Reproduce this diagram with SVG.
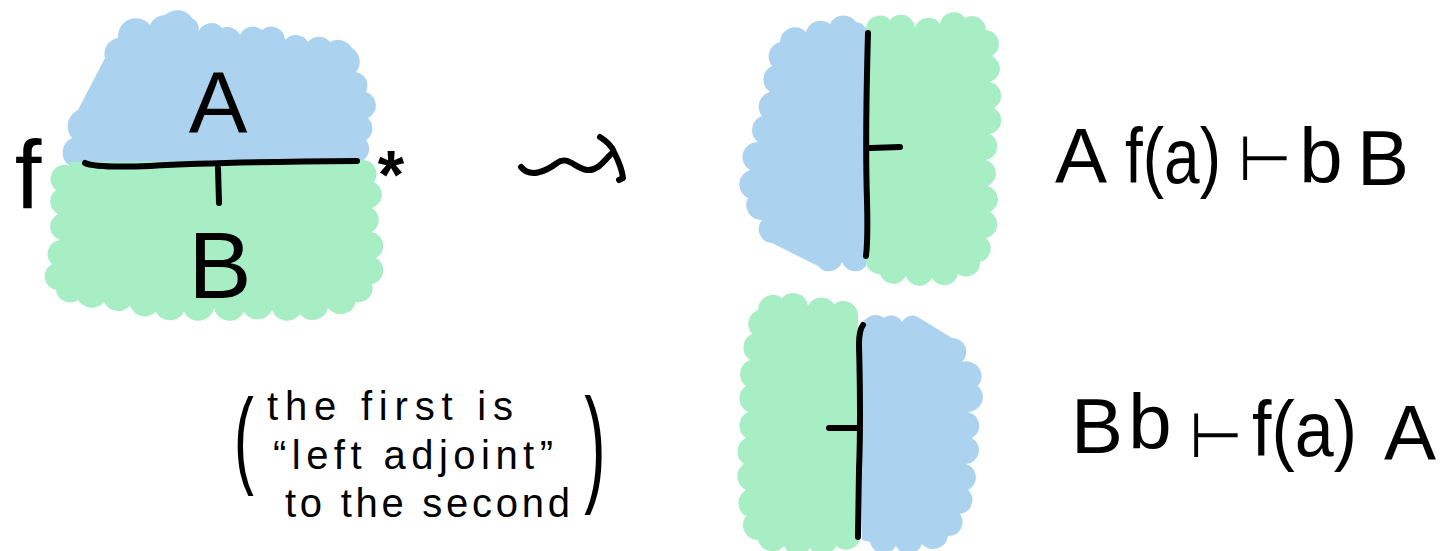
<svg xmlns="http://www.w3.org/2000/svg" width="1455" height="551" viewBox="0 0 1455 551">
<style>
.blue{fill:#ABD3F0}
.green{fill:#A8EEC5}
.ink{fill:none;stroke:#000;stroke-width:6;stroke-linecap:round;stroke-linejoin:round}
.t{font-family:"Liberation Sans","DejaVu Sans",sans-serif;fill:#000}
.big{font-size:78px}
.ts{font-family:"DejaVu Sans",sans-serif;font-size:62px}
.note{font-size:40px}
</style>
<rect width="1455" height="551" fill="#fff"/>
<g id="left-diagram">
<path class="blue" d="M 70 166 A 16 16 0 0 1 72 138 A 18 18 0 0 1 78 110 L 105 58 A 16 16 0 0 1 118 38 A 18 18 0 0 1 150 25 A 16 16 0 0 1 165 15 A 18 18 0 0 1 192 18 A 12 12 0 0 1 198 33 A 14 14 0 0 1 222 28 A 14 14 0 0 1 240 35 A 14 14 0 0 1 262 30 A 14 14 0 0 1 285 40 A 14 14 0 0 1 308 42 A 14 14 0 0 1 330 42 A 16 16 0 0 1 352 48 A 16 16 0 0 1 356 72 A 14 14 0 0 1 366 92 A 14 14 0 0 1 368 118 A 14 14 0 0 1 366 140 A 14 14 0 0 1 360 162 Z"/>
<path class="green" d="M 70 162 L 362 160 A 14 14 0 0 1 374 182 A 14 14 0 0 1 372 208 A 14 14 0 0 1 372 232 A 14 14 0 0 1 376 258 A 14 14 0 0 1 372 284 A 14 14 0 0 1 356 302 A 16 16 0 0 1 328 308 A 16 16 0 0 1 300 314 A 16 16 0 0 1 272 310 A 16 16 0 0 1 244 312 A 16 16 0 0 1 214 308 A 16 16 0 0 1 184 312 A 16 16 0 0 1 156 312 A 16 16 0 0 1 130 306 A 16 16 0 0 1 104 302 A 16 16 0 0 1 78 300 A 14 14 0 0 1 56 290 A 14 14 0 0 1 52 264 A 14 14 0 0 1 60 240 A 14 14 0 0 1 58 214 A 14 14 0 0 1 56 190 A 14 14 0 0 1 70 166 Z"/>
<path class="ink" d="M 85 163 Q 95 168 150 166 Q 220 162 357 161"/>
<path class="ink" d="M 218 168 L 219 203"/>
<text class="t" x="218" y="133" font-size="88" text-anchor="middle">A</text>
<text class="t" x="220" y="298" font-size="95" text-anchor="middle">B</text>
<text class="t" x="28" y="208" font-size="96" text-anchor="middle">f</text>
<text class="t" x="391" y="198" font-size="68" font-weight="bold" text-anchor="middle">*</text>
</g>
<g id="connectors">
<path class="ink" d="M 521 167 C 530 178 545 172 557 163 C 567 155 575 168 587 170 C 598 171 605 160 611 154"/>
<path class="ink" d="M 600 137 Q 611 144 614 152 Q 622 168 623 178 L 619 180"/>
</g>
<g id="top-right">
<path class="blue" d="M 866 25 L 866 266 A 14 14 0 0 1 842 262 A 14 14 0 0 1 818 266 L 772 243 A 14 14 0 0 1 762 220 A 15 15 0 0 1 748 198 A 15 15 0 0 1 750 170 A 15 15 0 0 1 758 142 A 15 15 0 0 1 762 116 A 15 15 0 0 1 770 92 A 15 15 0 0 1 772 66 A 15 15 0 0 1 780 42 A 15 15 0 0 1 806 32 A 15 15 0 0 1 830 24 A 15 15 0 0 1 856 22 A 14 14 0 0 1 866 28 Z"/>
<path class="green" d="M 866 28 A 14 14 0 0 1 890 20 A 14 14 0 0 1 915 28 A 14 14 0 0 1 940 24 A 14 14 0 0 1 965 18 A 14 14 0 0 1 986 30 A 14 14 0 0 1 992 56 A 14 14 0 0 1 990 82 A 14 14 0 0 1 994 108 A 14 14 0 0 1 990 134 A 14 14 0 0 1 986 160 A 14 14 0 0 1 988 186 A 14 14 0 0 1 990 212 A 14 14 0 0 1 986 238 A 14 14 0 0 1 980 262 A 14 14 0 0 1 958 274 A 14 14 0 0 1 932 278 A 14 14 0 0 1 906 276 A 14 14 0 0 1 880 274 A 14 14 0 0 1 866 262 Z"/>
<path class="ink" d="M 868 33 Q 865 140 867 200 Q 868 240 866 256"/>
<path class="ink" d="M 870 148 L 900 147"/>
</g>
<g id="bottom-right">
<path class="green" d="M 758 310 A 15 15 0 0 1 782 298 A 15 15 0 0 1 808 306 A 15 15 0 0 1 834 304 A 15 15 0 0 1 858 318 L 860 540 A 15 15 0 0 1 836 546 A 15 15 0 0 1 810 548 A 15 15 0 0 1 784 546 A 15 15 0 0 1 758 540 A 15 15 0 0 1 746 516 A 15 15 0 0 1 746 490 A 15 15 0 0 1 744 464 A 15 15 0 0 1 746 438 A 15 15 0 0 1 748 412 A 15 15 0 0 1 746 386 A 15 15 0 0 1 750 360 A 15 15 0 0 1 752 334 A 15 15 0 0 1 758 310 Z"/>
<path class="blue" d="M 862 325 A 14 14 0 0 1 884 318 A 12 12 0 0 1 902 322 A 12 12 0 0 1 916 316 L 952 338 A 14 14 0 0 1 962 362 A 15 15 0 0 1 978 386 A 15 15 0 0 1 968 412 A 14 14 0 0 1 972 438 A 14 14 0 0 1 966 464 A 14 14 0 0 1 968 490 A 14 14 0 0 1 960 514 A 14 14 0 0 1 948 536 A 15 15 0 0 1 922 544 A 14 14 0 0 1 896 546 A 14 14 0 0 1 870 542 L 862 540 Z"/>
<path class="ink" d="M 863 325 Q 859 330 859 345 Q 861 420 859 470 L 858 537"/>
<path class="ink" d="M 829 428 L 857 428"/>
</g>
<g id="formula-top">
<text class="t big" x="1081" y="183" text-anchor="middle">A</text>
<text class="t big" x="1125" y="183" textLength="96" lengthAdjust="spacingAndGlyphs">f(a)</text>
<text class="t ts" x="1265" y="180" text-anchor="middle">⊢</text>
<text class="t big" x="1321" y="183" text-anchor="middle">b</text>
<text class="t big" x="1383" y="185" text-anchor="middle">B</text>
</g>
<g id="formula-bottom">
<text class="t big" x="1097" y="453" text-anchor="middle">B</text>
<text class="t big" x="1150" y="449" text-anchor="middle">b</text>
<text class="t ts" x="1216" y="457" text-anchor="middle">⊢</text>
<text class="t big" x="1252" y="456" textLength="105" lengthAdjust="spacingAndGlyphs">f(a)</text>
<text class="t big" x="1410" y="460" text-anchor="middle">A</text>
</g>
<g id="note">
<text class="t" transform="translate(244 474) scale(0.55 1)" font-size="108" text-anchor="middle">(</text>
<text class="t" transform="translate(595 488) scale(0.5 1)" font-size="128" text-anchor="middle">)</text>
<text class="t note" x="267" y="420" textLength="246" lengthAdjust="spacing">the first is</text>
<text class="t note" x="273" y="469" textLength="280" lengthAdjust="spacing">“left adjoint”</text>
<text class="t note" x="285" y="517" textLength="285" lengthAdjust="spacing">to the second</text>
</g>
</svg>
